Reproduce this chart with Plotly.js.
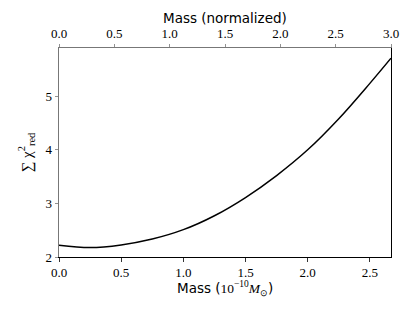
<!DOCTYPE html>
<html>
<head>
<meta charset="utf-8">
<script src="https://cdn.plot.ly/plotly-3.0.1.min.js"></script>
<style>
html,body{margin:0;padding:0;background:#fff;}
#chart{width:415px;height:311px;}
</style>
</head>
<body>
<div id="chart"></div>
<script>
// Mass in units of 1e-10 Msun
const massX = [0.0, 0.25, 0.5, 0.75, 1.0, 1.25, 1.5, 1.75, 2.0, 2.25, 2.5, 2.67];
// Sum of reduced chi-squared
const chiSum = [2.22, 2.175, 2.225, 2.335, 2.51, 2.77, 3.11, 3.52, 4.0, 4.58, 5.24, 5.71];
// Axis ranges
const massRange = [0, 2.67];
const normRange = [0, 3.0];
const chiRange = [2, 5.9];
// Axis titles
const bottomTitle = 'Mass (<span style="font-family:Liberation Serif">10<sup>−10</sup><i>M</i><sub>⊙</sub></span>)';
const topTitle = 'Mass (normalized)';
const leftTitle = '∑ χ<sup>2</sup><sub>red</sub>';

const serif = "Liberation Serif, Times New Roman, serif";
const sans = "DejaVu Sans, sans-serif";

const traces = [
  {x: massX, y: chiSum, type: 'scatter', mode: 'lines',
   line: {color: '#000', width: 1.5, shape: 'spline', smoothing: 1}, xaxis: 'x', yaxis: 'y',
   hoverinfo: 'skip', showlegend: false},
  {x: normRange, y: chiRange, type: 'scatter', mode: 'markers',
   marker: {opacity: 0}, xaxis: 'x2', yaxis: 'y2', hoverinfo: 'skip', showlegend: false}
];

const layout = {
  width: 415, height: 311,
  margin: {l: 59, r: 24, t: 48, b: 54},
  paper_bgcolor: '#fff', plot_bgcolor: '#fff',
  showlegend: false,
  xaxis: {
    range: massRange, dtick: 0.5, tick0: 0, tickformat: '.1f',
    showgrid: false, zeroline: false,
    showline: true, linecolor: '#000', linewidth: 1,
    ticks: 'outside', ticklen: 3.5, tickwidth: 0.8, tickcolor: '#000',
    tickfont: {family: serif, size: 13, color: '#000'}
  },
  xaxis2: {
    range: normRange, dtick: 0.5, tick0: 0, tickformat: '.1f',
    overlaying: 'x', side: 'top', anchor: 'y',
    showgrid: false, zeroline: false,
    showline: true, linecolor: '#777', linewidth: 1,
    ticks: 'outside', ticklen: 3.5, tickwidth: 0.8, tickcolor: '#777',
    tickfont: {family: serif, size: 13, color: '#000'}
  },
  yaxis: {
    range: chiRange, dtick: 1, tick0: 2,
    showgrid: false, zeroline: false,
    showline: true, linecolor: '#777', linewidth: 1,
    ticks: 'outside', ticklen: 3.5, tickwidth: 0.8, tickcolor: '#777',
    tickfont: {family: serif, size: 13, color: '#000'},
    title: {text: leftTitle, font: {family: serif, size: 15, color: '#000'}, standoff: 9}
  },
  yaxis2: {
    range: chiRange, overlaying: 'y', side: 'right', anchor: 'x',
    showgrid: false, zeroline: false, showticklabels: false, ticks: '',
    showline: true, linecolor: '#000', linewidth: 1
  },
  annotations: [
    {text: topTitle, xref: 'paper', yref: 'paper', x: 0.5, y: 1.142,
     xanchor: 'center', yanchor: 'middle', showarrow: false,
     font: {family: sans, size: 13.5, color: '#000'}},
    {text: bottomTitle, xref: 'paper', yref: 'paper', x: 0.5, y: -0.152,
     xanchor: 'center', yanchor: 'middle', showarrow: false,
     font: {family: sans, size: 13.5, color: '#000'}}
  ]
};

Plotly.newPlot('chart', traces, layout, {displayModeBar: false, staticPlot: true});
</script>
</body>
</html>
